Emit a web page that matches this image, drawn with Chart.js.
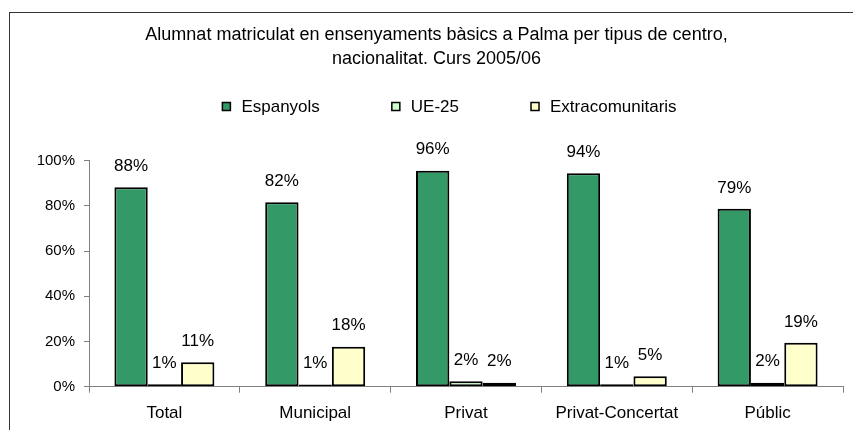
<!DOCTYPE html>
<html>
<head>
<meta charset="utf-8">
<script src="https://cdn.jsdelivr.net/npm/chart.js@4"></script>
<style>
  html, body { margin: 0; padding: 0; background: #fff; }
  #wrap { position: relative; width: 853px; height: 430px; overflow: hidden; }
  #frame { position: absolute; left: 9px; top: 12px; width: 900px; height: 500px; border-left: 1px solid #333; border-top: 1px solid #333; }
  canvas { position: absolute; left: 0; top: 0; }
</style>
</head>
<body>
<div id="wrap">
  <div id="frame"></div>
  <canvas id="chart" width="853" height="430"></canvas>
</div>
<script>
// Alumnat per tipus de centre i nacionalitat, curs 2005/06
const categories = ['Total', 'Municipal', 'Privat', 'Privat-Concertat', 'Públic']
const espanyols = [88.3, 81.6, 95.6, 94.4, 78.7]
const ue25 = [1.1, 1.0, 2.4, 1.1, 1.8]
const extracomunitaris = [10.8, 17.7, 1.8, 4.6, 19.4]
const yTicks = [0, 20, 40, 60, 80, 100]

const FONT = "'Liberation Sans', Arial, sans-serif"

// value labels above each bar
const valueLabels = {
  id: 'valueLabels',
  afterDatasetsDraw(chart) {
    const ctx = chart.ctx
    ctx.save()
    ctx.font = '17px ' + FONT
    ctx.fillStyle = '#000'
    ctx.textAlign = 'center'
    ctx.textBaseline = 'middle'
    chart.data.datasets.forEach((ds, i) => {
      const meta = chart.getDatasetMeta(i)
      meta.data.forEach((bar, j) => {
        ctx.fillText(Math.round(ds.data[j]) + '%', bar.x, bar.y - 21)
      })
    })
    ctx.restore()
  }
}

// legend in one row, items spaced like the original
const rowLegend = {
  id: 'rowLegend',
  afterDraw(chart) {
    const ctx = chart.ctx
    const tb = chart.titleBlock
    const cx = (tb.left + tb.right) / 2 + 13
    const y = 106.5
    const box = 8, gapText = 11, gapItem = 72
    ctx.save()
    ctx.font = '17px ' + FONT
    ctx.textBaseline = 'middle'
    ctx.textAlign = 'left'
    const items = chart.data.datasets.map(ds => ({
      text: ds.label, fill: ds.backgroundColor, w: box + gapText + ctx.measureText(ds.label).width
    }))
    const total = items.reduce((s, it) => s + it.w, 0) + gapItem * (items.length - 1)
    let x = cx - total / 2
    items.forEach(it => {
      ctx.fillStyle = it.fill
      ctx.fillRect(x, y - box / 2, box, box)
      ctx.strokeStyle = '#000'
      ctx.lineWidth = 1.5
      ctx.strokeRect(x, y - box / 2, box, box)
      ctx.fillStyle = '#000'
      ctx.fillText(it.text, x + box + gapText, y + 1)
      x += it.w + gapItem
    })
    ctx.restore()
  }
}

// eslint-disable-next-line no-undef
new Chart(document.getElementById('chart').getContext('2d'), {
  type: 'bar',
  data: {
    labels: categories,
    datasets: [
      { label: 'Espanyols', data: espanyols, backgroundColor: '#339966' },
      { label: 'UE-25', data: ue25, backgroundColor: '#CCFFCC' },
      { label: 'Extracomunitaris', data: extracomunitaris, backgroundColor: '#FFFFCC' }
    ]
  },
  options: {
    responsive: false,
    animation: false,
    layout: { padding: { left: 30, right: 10, top: 0, bottom: 0 } },
    datasets: {
      bar: {
        borderColor: '#000',
        borderWidth: 2,
        borderSkipped: false,
        categoryPercentage: 0.663,
        barPercentage: 1
      }
    },
    plugins: {
      legend: { display: false },
      tooltip: { enabled: false },
      title: {
        display: true,
        text: ['Alumnat matriculat en ensenyaments bàsics a Palma per tipus de centro,', 'nacionalitat. Curs 2005/06'],
        color: '#000',
        font: { family: FONT, size: 18, weight: 'normal', lineHeight: 24 / 18 },
        padding: { top: 23.5, bottom: 89.2 }
      }
    },
    scales: {
      x: {
        grid: { drawOnChartArea: false, color: '#808080', tickLength: 6, offset: true },
        border: { color: '#808080' },
        ticks: { color: '#000', font: { family: FONT, size: 17 }, padding: 10, maxRotation: 0 },
        afterFit(scale) { scale.height = 43.3 }
      },
      y: {
        min: 0,
        max: 100,
        afterBuildTicks(scale) { scale.ticks = yTicks.map(v => ({ value: v })) },
        grid: { drawOnChartArea: false, color: '#808080', tickLength: 5 },
        border: { color: '#808080' },
        ticks: { color: '#000', font: { family: FONT, size: 15 }, padding: 9, callback: v => v + '%' },
        afterFit(scale) { scale.width = 59 }
      }
    }
  },
  plugins: [valueLabels, rowLegend]
})
</script>
</body>
</html>
